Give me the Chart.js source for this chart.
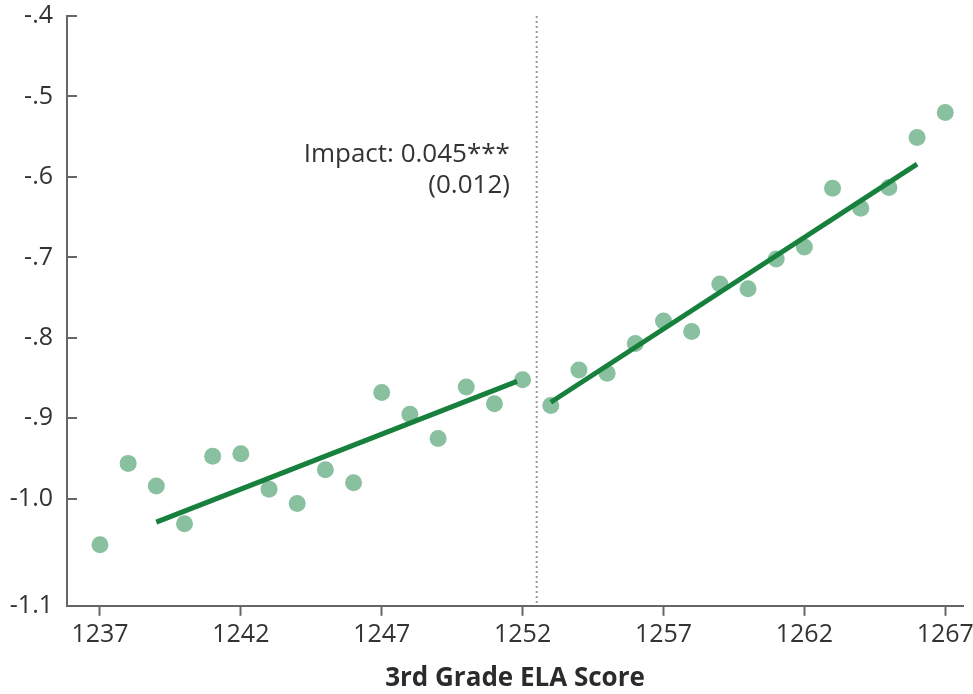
<!DOCTYPE html>
<html>
<head>
<meta charset="utf-8">
<title>3rd Grade ELA Score</title>
<script src="https://cdn.jsdelivr.net/npm/chart.js@4/dist/chart.umd.min.js"></script>
<style>
  html, body { margin: 0; padding: 0; background: #fff; }
</style>
</head>
<body>
<canvas id="rdChart" width="973" height="694"></canvas>
<script>
// score bins (3rd grade ELA) and mean outcome in each bin
const scores = [1237, 1238, 1239, 1240, 1241, 1242, 1243, 1244, 1245, 1246,
                1247, 1248, 1249, 1250, 1251, 1252, 1253, 1254, 1255, 1256,
                1257, 1258, 1259, 1260, 1261, 1262, 1263, 1264, 1265, 1266, 1267];
const outcomes = [-1.057, -0.956, -0.984, -1.031, -0.947, -0.944, -0.988, -1.006, -0.964, -0.980,
                  -0.868, -0.895, -0.925, -0.861, -0.882, -0.852, -0.884, -0.840, -0.844, -0.807,
                  -0.779, -0.792, -0.733, -0.739, -0.702, -0.687, -0.614, -0.639, -0.613, -0.551, -0.520];

// fitted lines either side of the cutoff
const fitLeftX = [1239, 1251.8];
const fitLeftY = [-1.029, -0.854];
const fitRightX = [1253, 1266];
const fitRightY = [-0.880, -0.584];
const cutoff = 1252.5;

const xTicks = [1237, 1242, 1247, 1252, 1257, 1262, 1267];
const yTicks = [-1.0, -0.9, -0.8, -0.7, -0.6, -0.5, -0.4];
const yMin = -1.133;
const yBottomLabel = '-1.1';
const impactText = ['Impact: 0.045***', '(0.012)'];

const FONT = '"Open Sans", "DejaVu Sans", sans-serif';

function pairs(xs, ys) {
  return xs.map((x, i) => ({ x: x, y: ys[i] }));
}

// inner tick marks on the y axis + the impact note
const extras = {
  id: 'extras',
  afterDatasetsDraw(chart) {
    const ctx = chart.ctx;
    const xs = chart.scales.x, ys = chart.scales.y;
    ctx.save();
    ctx.strokeStyle = '#666';
    ctx.lineWidth = 2;
    yTicks.forEach(v => {
      const py = Math.round(ys.getPixelForValue(v));
      ctx.beginPath();
      ctx.moveTo(xs.left, py);
      ctx.lineTo(xs.left + 10, py);
      ctx.stroke();
    });
    ctx.fillStyle = '#333';
    ctx.font = '26px ' + FONT;
    ctx.textAlign = 'right';
    ctx.textBaseline = 'alphabetic';
    const tx = xs.getPixelForValue(1251.55);
    ctx.fillText(impactText[0], tx, ys.getPixelForValue(-0.582));
    ctx.fillText(impactText[1], tx, ys.getPixelForValue(-0.620));
    ctx.restore();
  }
};

new Chart(document.getElementById('rdChart').getContext('2d'), {
  type: 'scatter',
  data: {
    datasets: [
      {
        data: pairs(fitLeftX, fitLeftY),
        showLine: true,
        borderColor: '#17803d',
        borderWidth: 5,
        pointRadius: 0,
        order: 1
      },
      {
        data: pairs(fitRightX, fitRightY),
        showLine: true,
        borderColor: '#17803d',
        borderWidth: 5,
        pointRadius: 0,
        order: 1
      },
      {
        data: pairs(scores, outcomes),
        backgroundColor: '#89c0a0',
        borderWidth: 0,
        pointRadius: 8.5,
        order: 2
      },
      {
        data: [{ x: cutoff, y: -0.4 }, { x: cutoff, y: yMin }],
        showLine: true,
        borderColor: '#9a9a9a',
        borderWidth: 2,
        borderDash: [2, 3],
        pointRadius: 0,
        order: 3
      }
    ]
  },
  options: {
    responsive: false,
    animation: false,
    layout: { padding: { top: 16, right: 10, bottom: 0, left: 0 } },
    plugins: {
      legend: { display: false },
      tooltip: { enabled: false }
    },
    scales: {
      x: {
        type: 'linear',
        min: 1235.83,
        max: 1267.63,
        afterBuildTicks: s => { s.ticks = xTicks.map(v => ({ value: v })); },
        afterFit: s => { s.paddingLeft = 0; s.paddingRight = 0; },
        border: { color: '#666', width: 2 },
        grid: { drawOnChartArea: false, drawTicks: true, tickLength: 10, tickColor: '#666', tickWidth: 2 },
        ticks: {
          color: '#333',
          font: { family: FONT, size: 25 },
          padding: 4,
          maxRotation: 0,
          callback: v => String(v)
        },
        title: {
          display: true,
          text: '3rd Grade ELA Score',
          color: '#2b2b2b',
          font: { family: FONT, size: 26, weight: 'bold' },
          padding: { top: 9, bottom: 0 }
        }
      },
      y: {
        min: yMin,
        max: -0.4,
        afterBuildTicks: s => { s.ticks = [yMin].concat(yTicks).map(v => ({ value: v })); },
        afterFit: s => { s.width = 67; s.paddingTop = 0; s.paddingBottom = 0; },
        border: { color: '#666', width: 2 },
        grid: { drawOnChartArea: false, drawTicks: false },
        ticks: {
          color: '#333',
          font: { family: FONT, size: 25 },
          padding: 14,
          callback: v => {
            if (v < -1.05) return yBottomLabel;
            if (v <= -0.95) return '-1.0';
            return '-.' + Math.round(-v * 10);
          }
        }
      }
    }
  },
  plugins: [extras]
});
</script>
</body>
</html>
